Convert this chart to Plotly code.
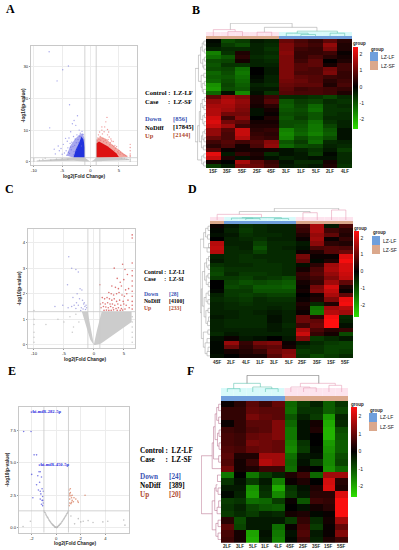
import plotly.graph_objects as go

W, H = 399, 550

# ---------- Panel A volcano ----------
a_grey_env_x = [-9.5,-3.2,-1.0,-0.5,0,0.5,1.0,5.2,6.8,6.8,2.5,1,0,-1,-3,-9.5]
a_grey_env_y = [0.4,1.3,1.3,0.5,0.0,0.5,1.3,1.3,0.9,0.5,0.3,0.1,0,0.1,0.3,0.1]
a_blue_pale_x = [-1.0,-1.0,-1.4,-2.0,-2.8,-3.6,-4.2,-3.0,-1.0]
a_blue_pale_y = [1.3,7.0,9.0,8.5,7.0,5.0,2.0,1.3,1.3]
a_red_pale_x = [1.0,1.0,1.8,2.8,3.6,4.6,5.6,6.6,5.0,1.0]
a_red_pale_y = [1.3,7.0,8.0,7.2,5.8,4.4,3.2,1.6,1.3,1.3]
a_blue_env_x = [-1.0,-1.0,-1.25,-1.6,-2.0,-2.6,-3.0,-2.0,-1.0]
a_blue_env_y = [1.3,4.5,7.0,8.0,6.0,3.8,1.4,1.3,1.3]
a_red_env_x = [1.0,1.0,1.5,2.2,3.0,3.8,4.6,5.0,3.0,1.0]
a_red_env_y = [1.3,5.8,6.4,5.8,4.9,3.8,2.6,1.5,1.3,1.3]
a_blue_x = [-7.3,-3.9,-4.9,-5.9,-3.7,-7.2,-2.3,-2.9,-2.6,-3.2,-3.5,-2.0,-1.8,-2.4,-3.0,-3.8,-4.1,-4.4,-4.8,-5.2,-5.5,-6.2,-3.3,-2.7,-2.2,-1.9,-1.5,-1.3,-3.6,-4.0,-2.8,-2.5,-3.1,-3.4,-4.3,-4.6,-5.0,-2.1,-1.7,-2.9,-3.7,-4.2,-3.0,-2.4,-3.5,-3.9,-5.7,-6.4,-2.6,-1.6]
a_blue_y = [34.7,30.2,29,25.5,18,10.7,14.5,13,11.5,12,9.5,10,9,8.5,8,7.5,6.5,7.4,5.5,4.2,3.5,2.5,6.2,7.2,7,8,9.6,8.6,5.8,4.4,5.2,6,4.8,3.8,3.5,2.8,2.4,6,7.8,3.2,2.6,2.1,2.2,4.4,4.6,3,5,4,3.6,5]
a_red_x = [2.9,2.7,1.4,2.0,2.4,3.0,3.3,3.6,4.0,4.3,4.6,5.0,5.3,5.6,6.0,6.4,7.0,7.0,7.0,7.0,1.3,1.7,2.2,2.6,3.1,3.5,3.9,4.4,4.8,5.2,1.8,2.3,2.8,3.4,4.1,1.2,1.5,2.1,5.8,6.2,2.5,3.2,3.7,4.2,4.9,7.0,7.0,1.6,2.0,3.0]
a_red_y = [14,12.6,8.5,10,9.5,8.5,7.8,7.2,6.4,5.2,4.8,3.6,3,2.6,2.2,1.8,4.5,3.5,2.5,1.6,7.5,8,7.4,6.8,7,6,5.2,4.2,3.2,2.4,6.8,6.4,6,5.4,4.8,6.6,7,8.8,2.2,2,11,9.4,6.6,3.6,2.8,5.5,2.0,9.4,11,10.2]
a_grey_x = [-10,-10,-10,-8.4,-7,-6,-9,-8,-5,-4,7,7,6.4,6,5.5,7]
a_grey_y = [0.2,0.6,1.0,0.8,0.6,0.9,0.5,1.1,1.0,0.8,0.9,0.6,0.8,1.1,1.2,0.2]

# ---------- Panel C volcano ----------
c_grey_env_x = [-2.0,-1.0,-0.8,-0.4,0.0,0.5,1.0,1.3,3.0,4.5,6.3,6.3,4.5,2.5,1.2,0.3,0.0,-0.6,-1.1,-2.0]
c_grey_env_y = [1.3,1.3,1.0,0.5,0.02,0.55,1.0,1.3,1.3,1.3,1.3,0.9,0.6,0.3,0.06,0.0,0.0,0.2,0.6,1.3]
c_blue_x = [-4.2,-3.7,-3.0,-2.6,-4.4,-2.3,-2.0,-2.8,-3.5,-2.4,-1.9,-1.6,-1.3,-1.5,-2.6,-3.3,-3.7,-2.1,-1.2,-1.8,-5.2,-6.5,-4.3,-2.9,-1.4,-1.7,-3.0,-2.2]
c_blue_y = [3.45,3.0,2.95,2.85,2.35,2.2,2.15,2.0,1.85,1.8,1.75,1.65,1.55,1.5,1.55,1.55,1.5,1.45,1.45,1.4,1.55,1.5,1.45,1.65,1.38,1.6,1.42,1.35]
c_red_x = [6.4,6.4,6.4,6.4,6.4,6.4,6.4,6.4,6.4,6.4,6.4,6.4,3.4,4.8,5.2,5.0,3.9,4.4,5.6,3.0,3.6,4.1,4.6,5.3,5.8,2.5,2.9,3.3,3.8,4.2,4.7,5.1,5.5,1.0,1.4,1.8,2.2,2.6,3.0,3.4,3.8,4.3,4.9,5.7,1.1,1.5,1.9,2.3,2.7,3.1,3.5,4.0,4.5,5.0,5.4,1.2,1.6,2.0,2.4,2.8,3.2,3.7,4.1,4.6,5.2,5.9,1.7,2.1,2.5,2.9,3.3,3.9,4.4,4.8]
c_red_y = [4.3,4.18,3.2,2.9,2.7,2.5,2.3,2.1,1.9,1.7,1.55,1.4,3.0,3.15,2.95,2.55,2.6,2.45,2.75,2.3,2.25,2.2,2.3,2.15,2.2,2.05,2.0,1.95,2.0,2.05,1.95,1.9,2.0,2.35,1.85,1.8,1.85,1.8,1.75,1.8,1.7,1.75,1.7,1.75,1.6,1.65,1.6,1.65,1.6,1.6,1.55,1.6,1.55,1.6,1.55,1.45,1.5,1.48,1.45,1.5,1.45,1.42,1.45,1.42,1.4,1.45,1.35,1.36,1.35,1.35,1.37,1.35,1.35,1.36]
c_grey_x = [-10,-10,-10,-10,-10,-10,-6,-5,-4,-3.4,-3,-8,6.4,6.4,6.4,6.4,6.4,6.4,-2.5,-3.6]
c_grey_y = [0.1,0.3,0.5,0.8,1.0,1.35,1.0,0.9,1.1,0.7,1.2,0.8,0.1,0.3,0.5,0.7,0.9,1.1,0.9,0.5]

# ---------- Panel E volcano ----------
e_grey_x = [-1.0,-0.95,-0.9,-0.85,-0.8,-0.75,-0.7,-0.65,-0.6,-0.55,-0.5,-0.45,-0.4,-0.35,-0.3,-0.25,-0.2,-0.15,-0.1,-0.05,0,0.05,0.1,0.15,0.2,0.25,0.3,0.35,0.4,0.45,0.5,0.55,0.6,0.65,0.7,0.75,0.8,0.85,0.9,0.95,1.0,-0.1,0.1,0.0,-2.1,-2.7,2.2,2.6,3.0,3.8,4.2,5.5,5.6,1.5,1.8,2.0,1.2]
e_grey_y = [1.3,1.2,1.15,1.05,0.95,0.85,0.8,0.72,0.62,0.55,0.48,0.42,0.35,0.3,0.24,0.2,0.16,0.12,0.08,0.04,0.02,0.04,0.08,0.12,0.16,0.2,0.26,0.3,0.36,0.44,0.5,0.58,0.65,0.72,0.8,0.88,0.95,1.05,1.12,1.2,1.3,0.03,0.03,0.01,0.5,0.1,0.5,0.55,0.4,0.45,0.5,0.6,0.2,0.3,0.7,0.45,0.9]
e_blue_x = [-2.65,-2.05,-1.8,-1.6,-2.0,-1.4,-1.3,-1.5,-1.2,-1.35,-1.15,-1.05,-1.1,-1.25,-1.3,-1.45,-1.15,-1.05,-1.2,-1.1,-1.3,-1.08,-1.6,-1.9]
e_blue_y = [7.4,7.4,5.6,5.6,4.1,4.3,4.3,4.0,3.9,3.5,3.0,2.8,2.4,2.6,2.2,2.9,2.1,1.9,1.8,1.7,2.8,2.1,3.3,2.3]
e_red_x = [1.05,1.1,1.15,1.2,1.25,1.1,1.3,1.45,1.75,1.8,1.1,1.05,1.2,1.4,1.6,1.05,1.25,1.15,2.35,1.3]
e_red_y = [2.9,2.6,2.7,2.45,2.3,2.2,2.1,2.3,2.05,1.95,1.9,1.7,1.85,2.0,2.2,2.45,1.95,3.0,2.5,2.5]

# ---------- Panel B heatmap ----------
b_cols = ["1SF","3SF","5SF","2SF","4SF","3LF","1LF","5LF","2LF","4LF"]
b_groups = [1,1,1,1,1,0,0,0,0,0]
b_z = [
[-.1,-.9,-.7,-.3,-.4,1.0,.7,.5,.9,.4],
[-.2,-.7,-.9,-.4,-.5,1.2,.8,.6,1.4,.3],
[-.4,-.5,-.5,-.4,-.6,1.2,.6,.5,1.2,.3],
[-1.5,-.6,.3,-.4,-.5,1.3,.5,.5,.6,.1],
[-1.3,-1.0,.4,-.5,-.6,1.2,.5,.7,.4,.2],
[-.9,-.8,.2,-.4,-.5,1.2,.6,.9,.0,.3],
[-1.0,-.6,-.6,-.4,-.4,1.2,.8,.9,.2,.6],
[-.9,-.8,-1.3,.0,-.3,1.2,.8,.7,1.1,.6],
[-1.2,-.9,-1.4,.0,-.3,1.2,.7,.7,1.2,.5],
[-1.1,-1.0,-1.3,-.1,-.4,1.2,.9,.8,.6,.5],
[-1.2,-.9,-1.2,-.2,-.4,1.1,1.0,.8,.4,.6],
[-1.7,-.8,-1.1,-.4,-.5,1.0,.9,.9,.3,.7],
[-1.8,-.9,-1.0,-.3,-.3,.9,.6,.7,.6,.5],
[-1.2,-.2,-1.6,-.2,-.6,.8,.7,.7,.6,.3],
[.9,1.5,1.2,.3,.6,-.5,-.5,-.6,-.8,-.5],
[1.4,1.7,1.4,.3,.8,-1.0,-.7,-.8,-.5,-.6],
[1.6,1.6,1.3,.2,.4,-1.1,-.8,-1.2,-.6,-.5],
[1.7,1.5,1.2,-.2,.2,-1.0,-.9,-1.3,-.6,-.6],
[1.7,1.1,1.1,-.2,.1,-.9,-.8,-1.0,-.6,-.5],
[2.0,.6,1.3,.0,.3,-1.0,-.7,-1.0,-.5,-.5],
[2.1,1.1,.9,.2,.2,-.9,-.9,-1.3,-.6,-.4],
[1.9,1.5,.6,.3,.3,-.9,-1.0,-1.4,-.8,-.4],
[1.4,.8,1.9,.4,.5,-1.5,-1.1,-1.4,-1.0,-.2],
[1.4,.7,1.9,.5,.4,-1.6,-1.2,-1.5,-1.1,-.2],
[1.0,.7,1.7,.6,.5,-1.5,-.9,-1.2,-.9,-.2],
[.6,.8,.6,.8,1.3,-1.0,-.7,-1.3,-.5,-.4],
[.4,.7,.2,.7,1.4,-1.2,-.9,-.8,-.4,-.5],
[.8,.1,.2,.2,.2,-.2,-.4,-.6,-.3,-.7],
[2.2,-.3,.5,.3,-.5,-.2,-.3,-.7,-.1,-.5],
[1.9,.3,-.2,.2,-.2,-.4,-.3,-.2,-.2,-.5],
[.2,.0,1.6,.9,.5,-.2,-.5,-.5,.2,-.5],
[-.7,-.3,1.2,1.0,.6,-.3,-.4,-.3,.3,-.6],
]
b_col_tree = [(1,0,2,0,.35),(0,0,1.5,.35,.5),(3,0,4,0,.3),(6,0,7,0,.12),(5,0,6.5,.12,.22),(8,0,9,0,.22),(5.75,.22,8.5,.22,.38),(3.5,.3,7.1,.38,.68),(1.17,.5,5.4,.68,1)]
b_col_colors = ["#e8a0b8","#e8a0b8","#e8a0b8","#5fc4b0","#5fc4b0","#5fc4b0","#5fc4b0","#aaaaaa","#aaaaaa"]
b_row_tree = [(0,0,1,0,.2),(2,0,3,0,.15),(.5,.2,2.5,.15,.35),(4,0,5,0,.15),(6,0,7,0,.2),(4.5,.15,6.5,.2,.3),(1.5,.35,5.5,.3,.5),(8,0,9,0,.2),(10,0,11,0,.15),(12,0,13,0,.25),(10.5,.15,12.5,.25,.35),(8.5,.2,11.5,.35,.45),(3.5,.5,10,.45,.7),
(14,0,15,0,.15),(16,0,17,0,.2),(14.5,.15,16.5,.2,.35),(18,0,19,0,.15),(20,0,21,0,.18),(18.5,.15,20.5,.18,.3),(15.5,.35,19.5,.3,.5),(22,0,23,0,.12),(24,0,25,0,.18),(22.5,.12,24.5,.18,.3),(26,0,27,0,.25),(23.5,.3,26.5,.25,.42),(17.5,.5,25,.42,.62),
(28,0,29,0,.2),(30,0,31,0,.22),(28.5,.2,30.5,.22,.4),(21,.62,29.5,.4,.78),(6.8,.7,25,.78,1)]

# ---------- Panel D heatmap ----------
d_cols = ["4SF","2LF","4LF","1LF","3LF","5LF","2SF","3SF","1SF","5SF"]
d_groups = [1,0,0,0,0,0,1,1,1,1]
d_z = [
[.1,-.3,-.6,-.5,-.4,-.4,.6,1.6,-.3,.7],
[-.1,-.4,-.7,-.5,-.4,-.4,.5,1.6,.6,.4],
[-.2,-.3,-.6,-.5,-.5,-.4,.3,1.4,.9,.3],
[.0,-.4,-.5,-.6,-.4,-.4,.1,1.5,.1,.5],
[1.7,-.4,-.4,-.8,-.5,-.5,-.3,1.3,.4,.3],
[1.8,-.5,-.4,-1.0,-.5,-.4,-.2,.7,.8,.7],
[1.7,-.5,-.5,-.8,-.5,-.5,.1,.3,.8,1.0],
[-.4,-.5,-.6,-.5,-.5,-.5,1.1,.1,.1,2.1],
[-.3,-.5,-.6,-.6,-.5,-.5,.9,-.1,.3,2.3],
[-.6,-.5,-.5,-.6,-.6,-.5,-.2,.4,1.5,2.0],
[-.8,-.6,-.6,-.6,-.6,-.5,.2,.7,1.6,2.0],
[-.9,-.5,-.7,-.7,-.6,-.5,.5,.8,1.4,1.9],
[-.7,-.7,-.8,-.6,-.7,-.9,.4,.6,1.2,1.8],
[.0,-.8,-1.0,-.9,-1.0,-1.1,.2,.5,1.5,.9],
[.0,-.9,-.8,-1.1,-1.1,-1.2,.1,1.1,2.0,.3],
[-.1,-.7,-.7,-1.0,-1.0,-1.0,.2,1.2,1.8,.1],
[-.4,-.7,-.8,-.7,-.8,-.8,.0,.2,1.6,.9],
[-.5,-.6,-.7,-.5,-.6,-.6,.1,.3,1.2,2.2],
[-.4,-.5,-.6,-.5,-.5,-.5,.3,-.5,.3,2.3],
[-.4,-.5,-.5,-.5,-.4,-.5,.2,-1.4,1.5,1.7],
[-.4,-.4,-.5,-.4,-.3,-.4,.1,-1.5,1.7,1.5],
[-.3,-.4,-.5,-.5,-.2,-.4,1.0,.4,2.3,-.5],
[-.4,-.5,-.5,-.5,-.2,-.4,1.0,.9,2.4,-.4],
[-.4,-.5,-.5,-.5,-.3,-.5,.6,1.0,2.4,-.2],
[-.4,-.4,-.4,-.4,-.3,-.4,1.6,.7,.4,.5],
[-.5,-.3,-.4,-.4,-.4,-.4,1.9,.5,.2,-.9],
[-.2,.1,-.3,-.2,.0,-.3,1.2,-.7,-.5,-.3],
[-.1,1.4,.5,1.1,1.2,.1,-.3,-.5,-.7,-.8],
[-.1,1.0,.4,.8,.9,.2,-.5,-.6,-.8,-.8],
[-.1,.2,.3,.5,1.0,1.2,-.7,-.6,-.8,-.7],
[-.2,.0,.2,.2,.8,1.3,-.6,-.9,-.7,-.5],
]
d_col_tree = [(2,0,3,0,.12),(4,0,5,0,.12),(1,0,2.5,.12,.16),(1.75,.16,4.5,.12,.2),(0,0,3.1,.2,.48),(6,0,7,0,.62),(8,0,9,0,.85),(1.55,.48,6.5,.62,.72),(4,.72,8.5,.85,1)]
d_col_colors = ["#5fc4b0","#5fc4b0","#5fc4b0","#5fc4b0","#e8a0b8","#e8a0b8","#e8a0b8","#aaaaaa","#aaaaaa"]
d_row_tree = [(0,0,1,0,.2),(2,0,3,0,.25),(.5,.2,2.5,.25,.45),(4,0,5,0,.15),(5,0,6,0,.3),(1.5,.45,5,.3,.65),(7,0,8,0,.15),(9,0,10,0,.2),(7.5,.15,9.5,.2,.35),(11,0,12,0,.2),(13,0,14,0,.18),(11.5,.2,13.5,.18,.38),(8.5,.35,12.5,.38,.55),(15,0,16,0,.18),(17,0,18,0,.22),(15.5,.18,17.5,.22,.4),(19,0,20,0,.2),(21,0,22,0,.15),(22,.15,23,0,.25),(19.5,.2,22.5,.25,.42),(16.5,.4,21,.42,.6),(10.5,.55,18.5,.6,.78),(24,0,25,0,.22),(26,0,27,0,.3),(28,0,29,0,.2),(29,.2,30,0,.3),(27,.3,29.5,.3,.5),(24.5,.22,28,.5,.68),(14.5,.78,26,.68,.88),(3,.65,20,.88,1)]

# ---------- Panel F heatmap ----------
f_cols = ["2LF","3LF","5LF","1LF","4LF","4SF","2SF","3SF","1SF","5SF"]
f_groups = [0,0,0,0,0,1,1,1,1,1]
f_z = [
[.1,.4,.9,.6,1.0,-1.2,-.7,-.4,-1.1,-.6],
[.5,.5,1.0,.9,.9,-1.3,-.6,-.6,-1.1,-.8],
[.5,.5,1.2,1.0,.9,-1.0,-.4,-.7,-1.8,-.4],
[.1,.5,.9,.9,1.3,-1.2,-.2,.2,-2.0,-.5],
[.6,.5,.8,.9,1.3,-1.4,-.2,.3,-2.1,-.9],
[.7,.6,1.0,1.1,1.3,-1.4,-.2,.0,-2.1,-1.0],
[.7,.6,1.2,1.1,1.0,-1.5,-.6,.0,-1.8,-1.1],
[.8,.7,1.0,1.1,1.0,-1.6,-.7,-.1,-1.7,-1.1],
[.9,.3,.3,1.6,1.6,-1.3,-.3,-.2,-1.6,-.9],
[.8,.2,.6,1.8,1.6,-1.2,-.2,-.7,-1.6,-.8],
[1.1,.2,.3,.6,.6,-1.3,.1,.0,-1.7,-1.2],
[-1.4,.0,-1.4,-.7,-.4,.3,.6,-1.2,1.6,1.6],
[-.6,-.2,-.7,-.3,-1.5,.1,.3,.0,2.1,.4],
[-.3,-.3,-1.7,-.5,-2.0,-.6,-.2,.3,2.2,.3],
[-.1,-.4,-1.8,-.6,-1.6,-.7,-.3,.4,.4,2.2],
[-.7,-.6,-1.3,-1.2,-.7,.1,-1.0,.6,.5,2.5],
[-.6,-.4,-.8,-1.0,-1.1,.0,-.2,.2,.4,2.5],
[-.7,-.5,-.7,-.4,-.5,.2,.3,-.1,.1,2.5],
[.4,-.9,-.3,-.3,-.3,-.7,.5,-.5,.2,1.6],
[.9,-.8,-.3,-.3,-1.3,.1,.7,-.7,.1,1.0],
[.7,.2,-1.9,-.2,-1.4,-.2,.8,-.3,.1,1.3],
[.6,.2,-2.0,-.3,-1.5,-.1,.6,-.4,.3,.6],
]
f_col_tree = [(0,0,1,0,.2),(3,0,4,0,.2),(2,0,3.5,.2,.3),(.5,.2,2.6,.3,.52),(6,0,7,0,.25),(5,0,6.5,.25,.3),(8,0,9,0,.4),(5.75,.3,8.5,.4,.52),(1.55,.52,7.2,.52,1)]
f_col_colors = ["#5fc4b0","#5fc4b0","#5fc4b0","#5fc4b0","#e8a0b8","#e8a0b8","#e8a0b8","#e8a0b8","#666666"]
f_row_tree = [(0,0,1,0,.12),(2,0,3,0,.12),(.5,.12,2.5,.12,.22),(4,0,5,0,.1),(6,0,7,0,.1),(4.5,.1,6.5,.1,.18),(1.5,.22,5.5,.18,.3),(8,0,9,0,.12),(3.5,.3,8.5,.12,.38),(6,.38,10,0,.45),
(11,0,12,0,.18),(13,0,14,0,.15),(12.5,.18,13.5,.15,.25),(15,0,16,0,.12),(16,.12,17,0,.2),(13,.25,16.5,.2,.32),(18,0,19,0,.15),(20,0,21,0,.15),(18.5,.15,20.5,.15,.26),(15,.32,19.5,.26,.45),(8,.45,17,.45,1)]

# ---------- Text ----------
panel_letters = ["A","B","C","D","E","F"]
info_a = ["Control :  LZ-LF","Case      :  LZ-SF","Down","NoDiff","Up","[856]","[17845]","[2144]"]
info_c = ["Control :  LZ-LI","Case      :  LZ-SI","Down","NoDiff","Up","[28]","[4100]","[233]"]
info_e = ["Control :  LZ-LF","Case      :  LZ-SF","Down","NoDiff","Up","[24]","[389]","[20]"]
mir_labels = ["chi-miR-282-5p","chi-miR-450-5p"]
mir_x = [-2.1,-1.45]
mir_y = [8.9,4.8]

GREY = "#b4b4b4"
SANS, SERIF = "Liberation Sans", "Liberation Serif"
INFO_BLUE, INFO_RED = "#3a55b5", "#b04a30"
LF_COL, SF_COL = "#6f9fdc", "#dba88c"

fig = go.Figure()
axis_i = [0]
anns, shapes = [], []

def new_axes(px0, px1, py0, py1, xr, yr, **kw):
    axis_i[0] += 1
    n = axis_i[0]
    sfx = "" if n == 1 else str(n)
    xa = dict(domain=[px0/W, px1/W], range=xr, anchor="y"+sfx, showgrid=False, zeroline=False,
              showticklabels=False, ticks="", showline=False)
    ya = dict(domain=[1-py1/H, 1-py0/H], range=yr, anchor="x"+sfx, showgrid=False, zeroline=False,
              showticklabels=False, ticks="", showline=False)
    xa.update(kw.get("x", {})); ya.update(kw.get("y", {}))
    fig.update_layout(**{"xaxis"+sfx: xa, "yaxis"+sfx: ya})
    return "x"+sfx, "y"+sfx

def text(px, py, s, size=5, color="black", family=SANS, bold=False, anchor="left", angle=0):
    anns.append(dict(xref="paper", yref="paper", x=px/W, y=1-py/H, text=f"<b>{s}</b>" if bold else s,
                     showarrow=False, xanchor=anchor, yanchor="middle", textangle=angle, borderpad=0,
                     font=dict(size=size, color=color, family=family)))

def volcano(box, xr, yr, xt, yt, ytext, vl, hl, envs, series, title_y, ytitle_x, title_cx, tick_size=4.2):
    px0, px1, py0, py1 = box
    grid = dict(showgrid=True, gridcolor="#ececec", gridwidth=0.5, tickfont=dict(size=tick_size, family=SANS, color="#222"),
                showticklabels=True, ticklen=1, ticks="outside", tickcolor="#999", tickwidth=0.5,
                showline=True, mirror=True, linecolor="#c8c8c8", linewidth=1)
    xa, ya = new_axes(px0, px1, py0, py1, xr, yr,
                      x=dict(grid, tickvals=xt, ticktext=[str(v) for v in xt]),
                      y=dict(grid, tickvals=yt, ticktext=ytext))
    for ex, ey, col in envs:
        fig.add_trace(go.Scatter(x=ex, y=ey, xaxis=xa, yaxis=ya, mode="lines", fill="toself", fillcolor=col,
                                 line=dict(width=0), hoverinfo="skip"))
    for sx, sy, col, sz, op in series:
        fig.add_trace(go.Scatter(x=sx, y=sy, xaxis=xa, yaxis=ya, mode="markers",
                                 marker=dict(size=sz, color=col, opacity=op, line=dict(width=0))))
    for v in vl:
        fig.add_trace(go.Scatter(x=[v, v], y=yr, xaxis=xa, yaxis=ya, mode="lines", line=dict(color="#c8c8c8", width=0.8)))
    fig.add_trace(go.Scatter(x=xr, y=[hl, hl], xaxis=xa, yaxis=ya, mode="lines", line=dict(color="#c8c8c8", width=0.8)))
    text(title_cx, title_y, "log2(Fold Change)", size=4.8, bold=True, anchor="center", color="#222")
    text(ytitle_x, (py0+py1)/2, "-log10(p-value)", size=4.8, bold=True, anchor="center", angle=-90, color="#222")
    return xa, ya

def heatmap(box, z, cols, groups, col_tree, col_colors, row_tree, row_color, cbar, dend_col_box, bar_box, dend_row_box, label_y, legend_pos, halo):
    px0, px1, py0, py1 = box
    zmin, zmax = cbar["zmin"], cbar["zmax"]
    mid = (0 - zmin) / (zmax - zmin)
    cs = [[0, "#2ee000"], [mid*0.5, "#0e6e00"], [mid, "#000000"], [mid+(1-mid)*0.5, "#800808"], [1, "#ff0f0f"]]
    xa, ya = new_axes(px0, px1, py0, py1, [-0.5, 9.5], [len(z)-0.5, -0.5])
    fig.add_trace(go.Heatmap(z=z, xaxis=xa, yaxis=ya, colorscale=cs, zmin=zmin, zmax=zmax,
                             colorbar=dict(x=cbar["x"]/W, xanchor="left", y=1-cbar["y0"]/H, yanchor="top",
                                           len=(cbar["y1"]-cbar["y0"])/H, lenmode="fraction", thickness=cbar["w"],
                                           thicknessmode="pixels", tickvals=[2,1,0,-1,-2], ticktext=["2","1","0","-1","-2"],
                                           tickfont=dict(size=5, family=SANS, color="#222"), ticks="", outlinewidth=0,
                                           ypad=0, xpad=0, ticklabelposition="outside")))
    for i, c in enumerate(cols):
        text(px0+(i+0.5)*(px1-px0)/10, label_y, c, size=4.5, bold=True, anchor="center", color="#222")
    bx, by = new_axes(px0, px1, bar_box[0], bar_box[1], [-0.5, 9.5], [0, 1])
    fig.add_trace(go.Heatmap(z=[groups], xaxis=bx, yaxis=by, colorscale=[[0, LF_COL], [1, SF_COL]], zmin=0, zmax=1, showscale=False, y=[0.5], dy=1))
    for i, g in enumerate(groups):
        cw = (px1-px0)/10
        shapes.append(dict(type="rect", xref="paper", yref="paper", layer="below", line_width=0,
                           x0=(px0+i*cw)/W, x1=(px0+(i+1)*cw)/W, y0=1-bar_box[0]/H, y1=1-(bar_box[0]-halo)/H,
                           fillcolor="#d8fafa" if g == 0 else "#fde4ee"))
    cx, cy = new_axes(px0, px1, dend_col_box[0], dend_col_box[1], [-0.5, 9.5], [0, 1.02])
    for (p1, h1, p2, h2, top), col in zip(col_tree, col_colors):
        fig.add_trace(go.Scatter(x=[p1, p1, p2, p2], y=[h1, top, top, h2], xaxis=cx, yaxis=cy, mode="lines", line=dict(color=col, width=0.6)))
    rx, ry = new_axes(dend_row_box[0], dend_row_box[1], py0, py1, [1.02, 0], [len(z)-0.5, -0.5])
    for p1, h1, p2, h2, top in row_tree:
        fig.add_trace(go.Scatter(x=[h1, top, top, h2], y=[p1, p1, p2, p2], xaxis=rx, yaxis=ry, mode="lines", line=dict(color=row_color, width=0.5)))
    lx, ly = legend_pos
    text(cbar["x"]-1, cbar["y0"]-3, "group", size=4.5, bold=True, color="#222")
    text(lx, ly, "group", size=4.5, bold=True, color="#222")
    for j, (lab, colr) in enumerate([("LZ-LF", LF_COL), ("LZ-SF", SF_COL)]):
        shapes.append(dict(type="rect", xref="paper", yref="paper", line_width=0, fillcolor=colr,
                           x0=lx/W, x1=(lx+8)/W, y0=1-(ly+3+(j+1)*9)/H, y1=1-(ly+3+j*9)/H))
        text(lx+10, ly+7.5+j*9, lab, size=5, color="#222")

# --- volcanoes ---
volcano((31,137,46,165), [-10.5,8.2], [-1,36.5], [-10,-5,0,5], [0,10,20,30], ["0","10","20","30"], [-1,1], 1.3,
        [(a_grey_env_x,a_grey_env_y,"#c8c8c8"),(a_blue_pale_x,a_blue_pale_y,"#a8a8ee"),(a_red_pale_x,a_red_pale_y,"#f2a8a0"),
         (a_blue_env_x,a_blue_env_y,"#2233dd"),(a_red_env_x,a_red_env_y,"#dd1111")],
        [(a_grey_x,a_grey_y,GREY,1.5,.7),(a_blue_x,a_blue_y,"#6a6ae0",1.4,.6),(a_red_x,a_red_y,"#e87070",1.4,.7)], 176, 23, 84)
volcano((28,135,229,348), [-11,6.87], [-0.12,4.53], [-10,-5,0,5], [0,1,2,3,4], ["0","1","2","3","4"], [-1,1], 1.3,
        [(c_grey_env_x,c_grey_env_y,"#cccccc")],
        [(c_grey_x,c_grey_y,GREY,1.5,.7),(c_blue_x,c_blue_y,"#8a8ad8",1.5,.7),(c_red_x,c_red_y,"#d45050",1.6,.8)], 359, 19, 85)
exa, eya = volcano((19,129,406.7,532.7), [-3.03,5.93], [-0.38,9.3], [-2,0,2,4], [0,2.5,5,7.5], ["0.0","2.5","5.0","7.5"], [-1,1], 1.3, [],
        [(e_grey_x,e_grey_y,GREY,1.6,.8),(e_blue_x,e_blue_y,"#5a5ae0",1.6,.8),(e_red_x,e_red_y,"#d88060",1.6,.8)], 543, 8, 75)
fig.add_trace(go.Scatter(x=mir_x, y=mir_y, xaxis=exa, yaxis=eya, mode="text", text=[f"<b>{t}</b>" for t in mir_labels],
                         textposition="middle right", textfont=dict(size=4.6, color="#2a2ae0", family=SERIF)))

# --- heatmaps ---
heatmap((206,352,39,168), b_z, b_cols, b_groups, b_col_tree, b_col_colors, b_row_tree, "#999999",
        dict(zmin=-2.6, zmax=2.45, x=353, y0=47, y1=129, w=5), (23,36), (36,39), (195,206), 171, (370,49), 4)
heatmap((210,353,224,358), d_z, d_cols, d_groups, d_col_tree, d_col_colors, d_row_tree, "#999999",
        dict(zmin=-2.7, zmax=2.4, x=354, y0=231, y1=317, w=5), (208,220), (221,224), (200,210), 362, (372,233), 4)
heatmap((221,348,401,542.7), f_z, f_cols, f_groups, f_col_tree, f_col_colors, f_row_tree, "#b06080",
        dict(zmin=-2.6, zmax=2.55, x=351, y0=407, y1=497, w=6), (375,392), (396,401), (201,221), 546, (369,410), 8)

# --- info blocks ---
def info(lines, x, x2, ys, size):
    text(x, ys[0], lines[0], size=size, bold=True, family=SERIF)
    text(x, ys[1], lines[1], size=size, bold=True, family=SERIF)
    text(x, ys[2], lines[2], size=size, bold=True, family=SERIF, color=INFO_BLUE)
    text(x, ys[3], lines[3], size=size, bold=True, family=SERIF)
    text(x, ys[4], lines[4], size=size, bold=True, family=SERIF, color=INFO_RED)
    text(x2, ys[2], lines[5], size=size, bold=True, family=SERIF, color=INFO_BLUE)
    text(x2, ys[3], lines[6], size=size, bold=True, family=SERIF)
    text(x2, ys[4], lines[7], size=size, bold=True, family=SERIF, color=INFO_RED)

info(info_a, 144, 172, [93,102,118.7,127,135], 6.5)
info(info_c, 143, 168, [271.7,279,293.7,300.7,308], 5.7)
info(info_e, 139, 168, [451,460,477,486,494.7], 7.2)

for s, px, py in zip(panel_letters, [5,191,4,187,7,186], [9,10,189,189,371,371]):
    text(px, py, s, size=12, bold=True, family=SERIF)

fig.update_layout(width=W, height=H, margin=dict(l=0, r=0, t=0, b=0), showlegend=False, autosize=False,
                  paper_bgcolor="white", plot_bgcolor="white", annotations=anns, shapes=shapes)
fig.write_html("out.html", config={"displayModeBar": False},
               post_script="document.body.style.margin='0';window.dispatchEvent(new Event('resize'));")
